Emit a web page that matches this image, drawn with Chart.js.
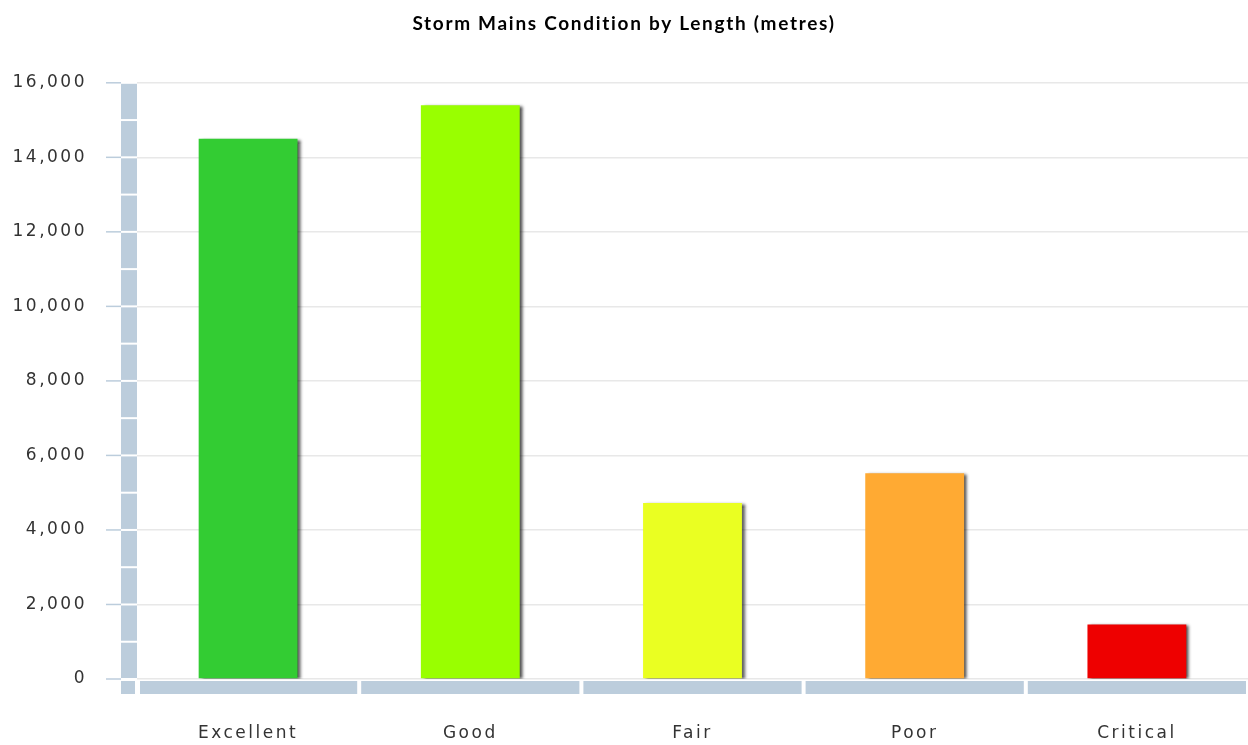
<!DOCTYPE html>
<html>
<head>
<meta charset="utf-8">
<script src="https://cdn.jsdelivr.net/npm/chart.js@4"></script>
<style>
  body { margin: 0; background: #fff; }
  #wrap { width: 1248px; height: 745px; }
</style>
</head>
<body>
<div id="wrap"><canvas id="mainsChart"></canvas></div>
<script>
// Chart values
const conditions = ['Excellent', 'Good', 'Fair', 'Poor', 'Critical'];
const lengths = [14500, 15400, 4725, 5520, 1465];
const barColors = ['#33cc33', '#99ff00', '#eaff22', '#ffaa33', '#ee0000'];
const yTicks = [0, 2000, 4000, 6000, 8000, 10000, 12000, 14000, 16000];

const bandColor = '#bccddc';
const tickFont = { family: "'DejaVu Sans', Verdana, sans-serif", size: 17 };

// Dark shadow to the right of each bar
const barShadow = {
  id: 'barShadow',
  beforeDatasetDraw(chart) {
    const ctx = chart.ctx;
    ctx.save();
    ctx.shadowColor = 'rgba(0,0,0,0.7)';
    ctx.shadowBlur = 3;
    ctx.shadowOffsetX = 3;
    ctx.shadowOffsetY = 1;
  },
  afterDatasetDraw(chart) {
    chart.ctx.restore();
  }
};

// The reference text is wide, so spread the letters a bit
// (title is drawn before datasets, tick labels after them: ticks.z = 1)
const textSpacing = {
  id: 'textSpacing',
  beforeDraw(chart) { chart.ctx.letterSpacing = '1.7px'; },
  afterDatasetsDraw(chart) { chart.ctx.letterSpacing = '2.5px'; },
  afterDraw(chart) { chart.ctx.letterSpacing = '0px'; }
};

// Thick segmented axis bands and the short tick marks
const axisBands = {
  id: 'axisBands',
  beforeDatasetsDraw(chart) {
    const ctx = chart.ctx;
    const y = chart.scales.y;
    const x = chart.scales.x;
    const area = chart.chartArea;
    ctx.save();
    ctx.fillStyle = bandColor;
    // vertical band, one piece per 1000
    for (let v = 0; v < 16000; v += 1000) {
      const top = y.getPixelForValue(v + 1000);
      const bottom = y.getPixelForValue(v);
      ctx.fillRect(area.left - 16, top + 1, 16, bottom - top - 2);
    }
    // little square in the corner
    ctx.fillRect(area.left - 16, area.bottom + 2, 14, 13);
    // bottom band, one piece per category
    const step = x.width / conditions.length;
    for (let i = 0; i < conditions.length; i++) {
      const l = x.left + i * step + (i === 0 ? 3 : 2);
      const r = x.left + (i + 1) * step - 2;
      ctx.fillRect(l, area.bottom + 2, r - l, 13);
    }
    // tick marks on the left
    ctx.strokeStyle = bandColor;
    ctx.lineWidth = 1.5;
    yTicks.forEach(v => {
      const py = y.getPixelForValue(v);
      ctx.beginPath();
      ctx.moveTo(area.left - 31, py);
      ctx.lineTo(area.left - 16, py);
      ctx.stroke();
    });
    ctx.restore();
  }
};

new Chart(document.getElementById('mainsChart'), {
  type: 'bar',
  data: {
    labels: conditions,
    datasets: [{
      data: lengths,
      backgroundColor: barColors,
      borderWidth: 0,
      categoryPercentage: 1,
      barPercentage: 0.445
    }]
  },
  options: {
    responsive: true,
    maintainAspectRatio: false,
    animation: false,
    layout: { padding: 0 },
    plugins: {
      legend: { display: false },
      tooltip: { enabled: false },
      title: {
        display: true,
        text: 'Storm Mains Condition by Length (metres)',
        color: '#000',
        font: { family: 'Lato', size: 19, weight: 'bold' },
        padding: { top: 12, bottom: 48 }
      }
    },
    scales: {
      x: {
        grid: { display: false, drawTicks: false },
        border: { display: false },
        ticks: {
          z: 1,
          color: '#333',
          font: tickFont,
          padding: 44
        },
        afterFit(scale) { scale.height = 66; }
      },
      y: {
        min: 0,
        max: 16000,
        grid: { color: '#e8e8e8', lineWidth: 1.5, drawTicks: false },
        border: { display: false },
        ticks: {
          z: 1,
          stepSize: 2000,
          color: '#333',
          font: tickFont,
          padding: 50
        },
        afterFit(scale) { scale.width = 137; }
      }
    }
  },
  plugins: [axisBands, barShadow, textSpacing]
});
</script>
</body>
</html>
